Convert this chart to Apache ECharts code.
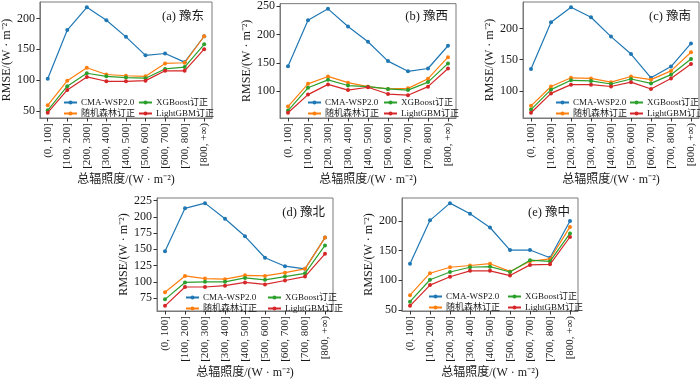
<!DOCTYPE html>
<html><head><meta charset="utf-8">
<script src="https://cdn.jsdelivr.net/npm/echarts@6/dist/echarts.min.js"></script>
<style>html,body{margin:0;padding:0;background:#fff}#c{width:700px;height:380px}</style>
</head><body><div id="c"></div>
<script>
const categories = ['(0, 100]','[100, 200]','[200, 300]','[300, 400]','[400, 500]','[500, 600]','[600, 700]','[700, 800]','[800, +∞)'];
const seriesNames = ['CMA-WSP2.0','随机森林订正','XGBoost订正','LightGBM订正'];
const panelTitles = ['(a) 豫东','(b) 豫西','(c) 豫南','(d) 豫北','(e) 豫中'];

const a_cma  = [102,181,218,197,170,140,143,129,171];
const a_rf   = [59,99,120,109,107,106,127,128,171];
const a_xgb  = [51,90,111,106,104,103,118,121,158];
const a_lgbm = [47,84,105,98,98,99,115,115,150];

const b_cma  = [144,225,245,214,187,153,135,140,180];
const b_rf   = [73,113,126,115,108,104,105,122,160];
const b_xgb  = [66,106,120,110,108,104,102,116,149];
const b_lgbm = [62,94,112,102,107,95,93,108,140];

const c_cma  = [135,210,234,218,187,159,121,139,176];
const c_rf   = [76,107,121,120,114,123,118,132,162];
const c_xgb  = [70,102,117,116,111,119,112,126,151];
const c_lgbm = [65,96,110,110,107,114,103,120,143];

const d_cma  = [147,213,221,197,170,137,124,120,168];
const d_rf   = [84,109,105,104,110,109,114,120,168];
const d_xgb  = [73,99,100,100,106,103,108,113,156];
const d_lgbm = [63,92,92,94,99,96,102,108,143];

const e_cma  = [128,201,230,212,189,151,151,138,200];
const e_rf   = [75,112,122,125,128,115,132,136,190];
const e_xgb  = [64,101,114,122,123,114,134,132,179];
const e_lgbm = [57,92,106,116,116,108,126,127,173];

const yTicks_a = [50,100,150,200];
const yTicks_b = [100,150,200,250];
const yTicks_c = [100,150,200];
const yTicks_d = [75,100,125,150,175,200,225];
const yTicks_e = [50,100,150,200];

const colors = ['#1f77b4','#ff7f0e','#2ca02c','#d62728'];
const FONT = "'Liberation Serif', 'Noto Sans CJK SC', serif";

const panels = [
  {data:[a_cma,a_rf,a_xgb,a_lgbm], ticks:yTicks_a, left:36,  top:2,   h:116, leg1:27, leg2:102, legTop:96},
  {data:[b_cma,b_rf,b_xgb,b_lgbm], ticks:yTicks_b, left:280, top:2,   h:116, leg1:27, leg2:103, legTop:96},
  {data:[c_cma,c_rf,c_xgb,c_lgbm], ticks:yTicks_c, left:523, top:2,   h:116, leg1:32, leg2:106, legTop:96},
  {data:[d_cma,d_rf,d_xgb,d_lgbm], ticks:yTicks_d, left:157, top:198, h:115, leg1:28, leg2:110, legTop:95},
  {data:[e_cma,e_rf,e_xgb,e_lgbm], ticks:yTicks_e, left:402, top:198, h:115, leg1:26, leg2:105, legTop:94}
];
const W = 176;

const grid=[], xAxis=[], yAxis=[], series=[], title=[], legend=[];
panels.forEach((p,i)=>{
  grid.push({left:p.left, top:p.top, width:W, height:p.h, show:true, borderColor:'#7a7a7a', borderWidth:1, backgroundColor:'transparent'});
  let all=[].concat(...p.data);
  let mn=Math.min(...all), mx=Math.max(...all), pad=(mx-mn)*0.05;
  xAxis.push({type:'value', gridIndex:i, min:-0.4, max:categories.length-1+0.4,
    splitLine:{show:false},
    axisLine:{show:true, onZero:false, lineStyle:{color:'#7a7a7a', width:1}},
    axisTick:{show:true, customValues:categories.map((c,j)=>j), length:3.5, lineStyle:{color:'#333'}},
    axisLabel:{customValues:categories.map((c,j)=>j), formatter:v=>categories[Math.round(v)], rotate:90, margin:5,
      fontFamily:FONT, fontSize:11, color:'#1a1a1a'},
    name:'总辐照度/(W · m⁻²)', nameLocation:'middle', nameGap:56,
    nameTextStyle:{fontFamily:FONT, fontSize:12, color:'#1a1a1a'}
  });
  yAxis.push({type:'value', gridIndex:i, min:mn-pad, max:mx+pad,
    splitLine:{show:false},
    axisLine:{show:true, onZero:false, lineStyle:{color:'#7a7a7a', width:1}},
    axisTick:{show:true, customValues:p.ticks, length:3.5, lineStyle:{color:'#333'}},
    axisLabel:{customValues:p.ticks, margin:5, fontFamily:FONT, fontSize:12, color:'#1a1a1a'},
    name:'RMSE/(W · m⁻²)', nameLocation:'middle', nameGap:23,
    nameTextStyle:{fontFamily:FONT, fontSize:12, color:'#1a1a1a'}
  });
  p.data.forEach((vals,k)=>{
    series.push({type:'line', name:seriesNames[k], xAxisIndex:i, yAxisIndex:i,
      data:vals.map((v,j)=>[j,v]), symbol:'circle', symbolSize:4, showSymbol:true,
      lineStyle:{width:1.2, color:colors[k]}, itemStyle:{color:colors[k]}, animation:false, z:2+k});
  });
  title.push({text:panelTitles[i], right:700-(p.left+W)+3, top:p.top+3,
    textStyle:{fontFamily:FONT, fontSize:12.5, fontWeight:'normal', color:'#1a1a1a'}});
  const legStyle = {orient:'vertical', top:p.top+p.legTop, itemWidth:13, itemHeight:5, itemGap:2,
    padding:0, selectedMode:false, textStyle:{fontFamily:FONT, fontSize:9, color:'#1a1a1a', padding:[0,0,0,-1]}};
  legend.push(Object.assign({}, legStyle, {left:p.left+p.leg1, data:[seriesNames[0],seriesNames[1]]}));
  legend.push(Object.assign({}, legStyle, {left:p.left+p.leg2, data:[seriesNames[2],seriesNames[3]]}));
});

const chart = echarts.init(document.getElementById('c'), null, {renderer:'canvas'});
chart.setOption({animation:false, backgroundColor:'#fff', grid, xAxis, yAxis, series, title, legend});
</script></body></html>
